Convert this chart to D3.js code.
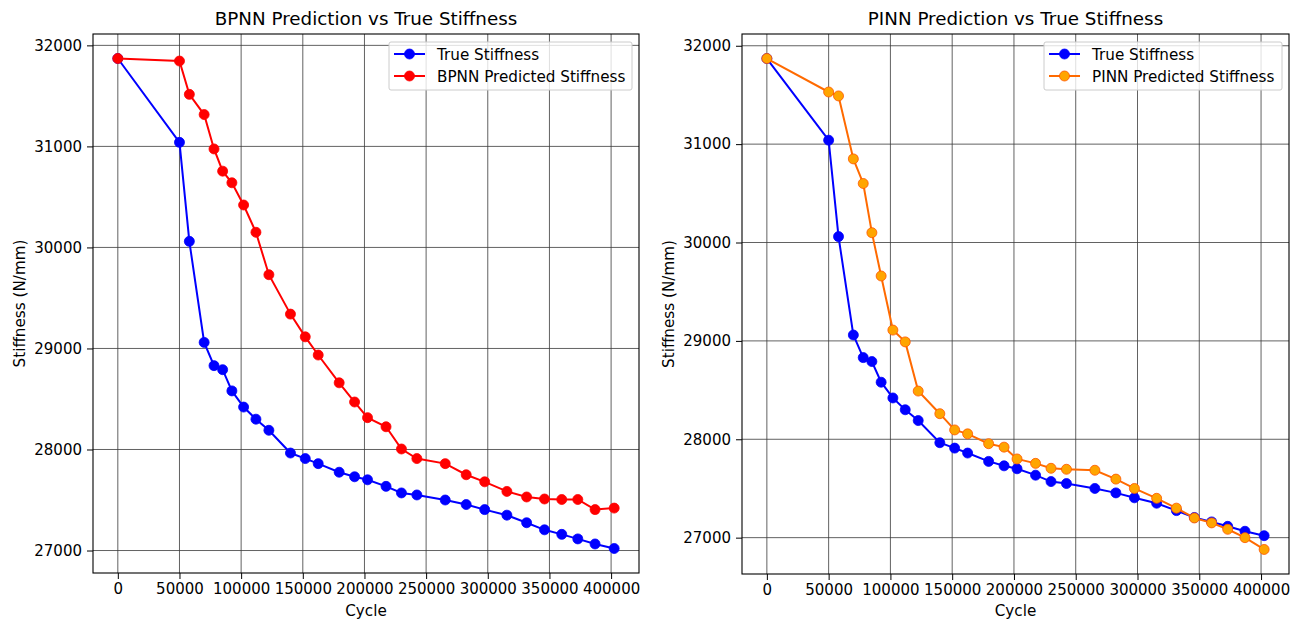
<!DOCTYPE html>
<html>
<head>
<meta charset="utf-8">
<script src="https://cdn.jsdelivr.net/npm/d3@7"></script>
<style>
  body { margin: 0; background: #fff; }
  svg { font-family: "DejaVu Sans", sans-serif; }
</style>
</head>
<body>
<svg id="chart" width="1293" height="620"></svg>
<script>
// values
var cycles = [0, 50000, 58000, 70000, 78000, 85000, 92500, 102000, 112000, 122500,
  140000, 152000, 162500, 179500, 192000, 202500, 217500, 230000, 242500, 265500,
  282500, 297500, 315500, 331500, 346000, 360000, 373000, 387000, 402500];

var trueStiffness = [31870, 31040, 30060, 29060, 28830, 28790, 28580, 28420, 28300, 28190,
  27965, 27910, 27860, 27775, 27730, 27700, 27635, 27570, 27550, 27500,
  27455, 27405, 27350, 27275, 27205, 27160, 27115, 27065, 27020];

var bpnnPred = [31870, 31845, 31515, 31315, 30975, 30755, 30640, 30420, 30150, 29730,
  29340, 29115, 28935, 28660, 28470, 28315, 28225, 28005, 27910, 27860,
  27750, 27680, 27585, 27530, 27510, 27505, 27505, 27405, 27420];

var pinnPred = [31870, 31530, 31490, 30850, 30600, 30100, 29660, 29110, 28990, 28490,
  28260, 28095, 28055, 27955, 27920, 27800, 27755, 27705, 27695, 27685,
  27595, 27500, 27400, 27300, 27200, 27150, 27085, 27000, 26880];

var xTicks = [0, 50000, 100000, 150000, 200000, 250000, 300000, 350000, 400000];
var yTicks = [27000, 28000, 29000, 30000, 31000, 32000];

var svg = d3.select("#chart");

// pad extent by 5% like matplotlib autoscale
function padded(values) {
  var ext = d3.extent(values);
  var pad = (ext[1] - ext[0]) * 0.05;
  return [ext[0] - pad, ext[1] + pad];
}

function drawPanel(opts) {
  var g = svg.append("g").attr("transform", "translate(" + opts.left + "," + opts.top + ")");
  var w = opts.width, h = opts.height;

  var x = d3.scaleLinear().domain(padded(cycles)).range([0, w]);
  var y = d3.scaleLinear().domain(padded(trueStiffness.concat(opts.pred))).range([h, 0]);

  // grid
  g.append("g").selectAll("line").data(xTicks).enter().append("line")
    .attr("x1", function(d) { return x(d); }).attr("x2", function(d) { return x(d); })
    .attr("y1", 0).attr("y2", h)
    .attr("stroke", "#3a3a3a").attr("stroke-width", 0.8);
  g.append("g").selectAll("line").data(yTicks).enter().append("line")
    .attr("y1", function(d) { return y(d); }).attr("y2", function(d) { return y(d); })
    .attr("x1", 0).attr("x2", w)
    .attr("stroke", "#3a3a3a").attr("stroke-width", 0.8);

  // axes
  var xAxis = g.append("g").attr("transform", "translate(0," + h + ")")
    .call(d3.axisBottom(x).tickValues(xTicks).tickFormat(d3.format("d")).tickSizeOuter(0).tickSize(6).tickPadding(4));
  var yAxis = g.append("g")
    .call(d3.axisLeft(y).tickValues(yTicks).tickFormat(d3.format("d")).tickSizeOuter(0).tickSize(6).tickPadding(5));
  [xAxis, yAxis].forEach(function(a) {
    a.select(".domain").remove();
    a.selectAll("text").attr("font-size", "15px").attr("fill", "#000")
      .attr("font-family", "DejaVu Sans, sans-serif");
    a.selectAll("line").attr("stroke", "#000").attr("stroke-width", 1);
  });

  // frame
  g.append("rect").attr("width", w).attr("height", h)
    .attr("fill", "none").attr("stroke", "#000").attr("stroke-width", 1.1);

  var line = d3.line()
    .x(function(d) { return x(d[0]); })
    .y(function(d) { return y(d[1]); });

  var series = [
    { vals: trueStiffness, stroke: "#0000ff", fill: "#0000ff", edge: "#0000ff", name: "True Stiffness" },
    { vals: opts.pred, stroke: opts.color, fill: opts.markerFill, edge: opts.markerEdge, name: opts.predName }
  ];

  series.forEach(function(s) {
    var pts = cycles.map(function(c, i) { return [c, s.vals[i]]; });
    g.append("path").datum(pts).attr("d", line)
      .attr("fill", "none").attr("stroke", s.stroke).attr("stroke-width", 2);
    g.append("g").selectAll("circle").data(pts).enter().append("circle")
      .attr("cx", function(d) { return x(d[0]); })
      .attr("cy", function(d) { return y(d[1]); })
      .attr("r", 5)
      .attr("fill", s.fill).attr("stroke", s.edge).attr("stroke-width", 0.8);
  });

  // title and labels
  svg.append("text").attr("x", opts.left + w / 2).attr("y", 25)
    .attr("text-anchor", "middle").attr("font-size", "18.3px").text(opts.title);
  svg.append("text").attr("x", opts.left + w / 2).attr("y", 616)
    .attr("text-anchor", "middle").attr("font-size", "15.2px").text("Cycle");
  svg.append("text")
    .attr("transform", "translate(" + (opts.left - 68) + "," + (opts.top + h / 2) + ") rotate(-90)")
    .attr("text-anchor", "middle").attr("font-size", "15.2px").text("Stiffness (N/mm)");

  // legend
  var lg = g.append("g").attr("transform", "translate(" + (w - opts.legendW - 7) + ",8)");
  lg.append("rect").attr("width", opts.legendW).attr("height", 48).attr("rx", 2)
    .attr("fill", "#fff").attr("fill-opacity", 0.8)
    .attr("stroke", "#cccccc").attr("stroke-width", 1);
  series.forEach(function(s, i) {
    var ly = 12 + i * 22;
    lg.append("line").attr("x1", 5).attr("x2", 36).attr("y1", ly).attr("y2", ly)
      .attr("stroke", s.stroke).attr("stroke-width", 2);
    lg.append("circle").attr("cx", 20.5).attr("cy", ly).attr("r", 5)
      .attr("fill", s.fill).attr("stroke", s.edge).attr("stroke-width", 0.8);
    lg.append("text").attr("x", 48).attr("y", ly + 5.5).attr("font-size", "15.2px").text(s.name);
  });
}

drawPanel({
  left: 93, top: 34, width: 546, height: 539,
  pred: bpnnPred, color: "#ff0000", markerFill: "#ff0000", markerEdge: "#ff0000",
  predName: "BPNN Predicted Stiffness", title: "BPNN Prediction vs True Stiffness",
  legendW: 243
});

drawPanel({
  left: 742, top: 34, width: 547, height: 540,
  pred: pinnPred, color: "#ff6a00", markerFill: "#ffa500", markerEdge: "#ff5500",
  predName: "PINN Predicted Stiffness", title: "PINN Prediction vs True Stiffness",
  legendW: 238
});
</script>
</body>
</html>
